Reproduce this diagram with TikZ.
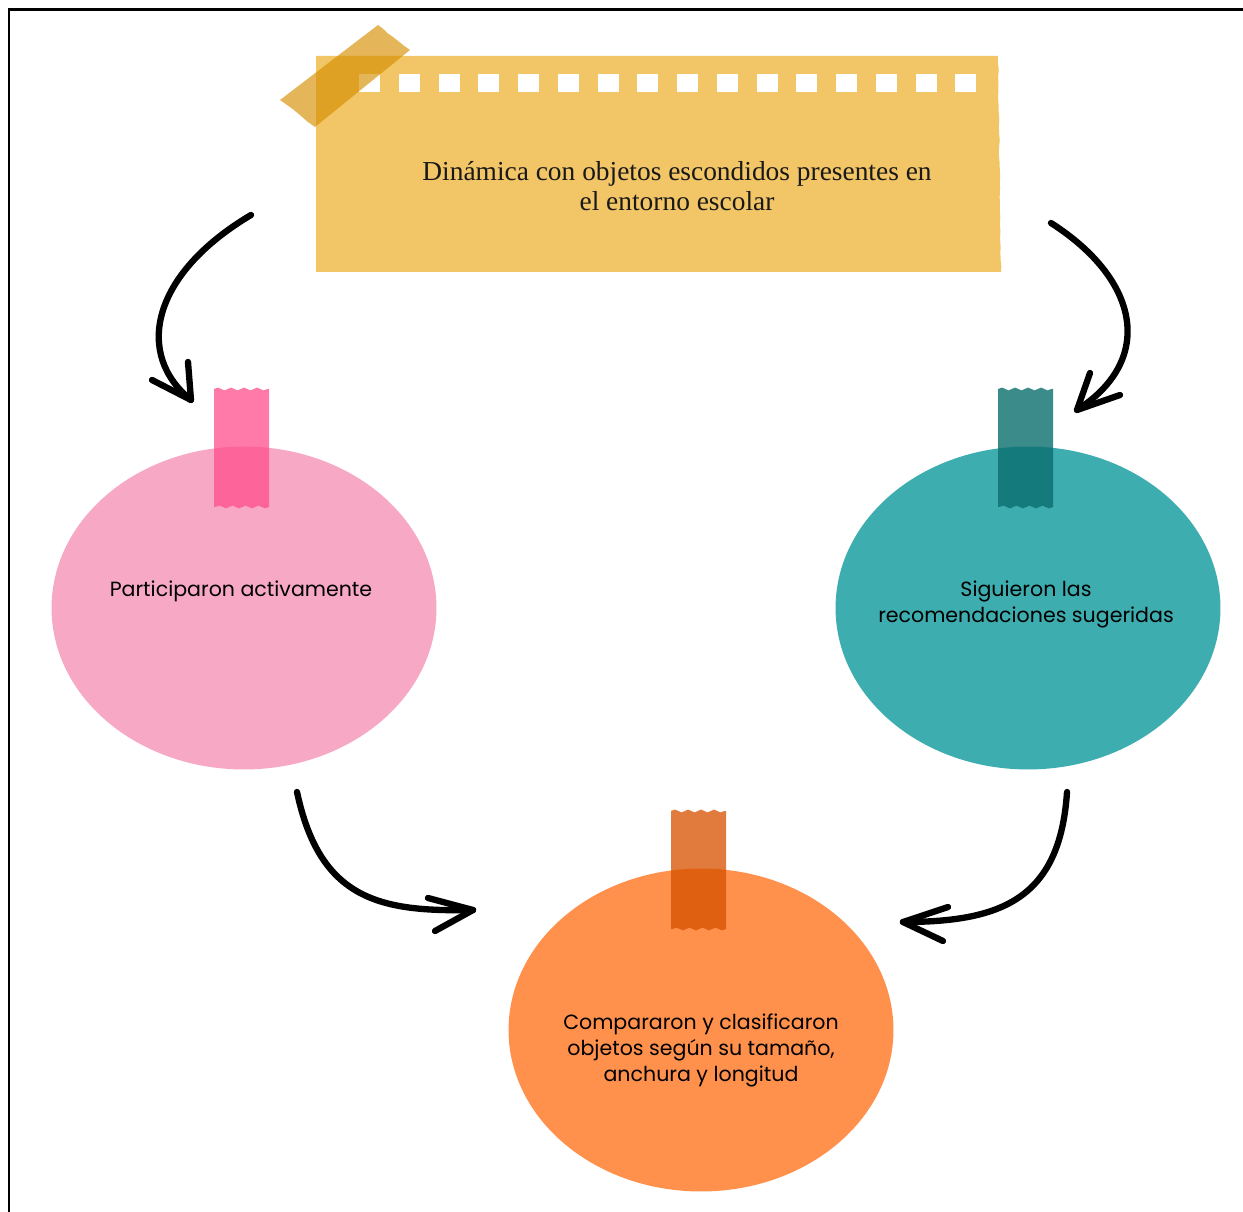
\documentclass[tikz,border=0pt]{standalone}
\usepackage{fontspec}
\setmainfont{Liberation Serif}
\newfontfamily\labelfont{Poppins}
\usetikzlibrary{shapes.geometric,decorations.pathmorphing}

\definecolor{paper}{HTML}{F2C566}
\definecolor{tapegold}{RGB}{213,143,0}
\definecolor{pinkbody}{HTML}{F7A8C4}
\definecolor{pinktape}{RGB}{255,82,142}
\definecolor{tealbody}{HTML}{3DADAF}
\definecolor{tealtape}{RGB}{10,110,110}
\definecolor{orangebody}{HTML}{FF914D}
\definecolor{orangetape}{RGB}{215,81,0}

\tikzset{
  blob/.style={ellipse, inner sep=0pt, outer sep=0pt,
    minimum width=7.7cm, minimum height=6.46cm},
  wavy/.style={decoration={snake, segment length=7.4pt, amplitude=0.8pt}},
  torn/.style={decoration={random steps, segment length=4pt, amplitude=0.35pt}},
  arrowline/.style={line width=3.6pt, line cap=round, line join=round, black},
  caption/.style={font=\labelfont\fontsize{11.7}{14.8}\selectfont,
    align=center, text=black},
  heading/.style={font=\fontsize{15.6}{17}\selectfont, align=center, text=black!90}
}

\begin{document}
\begin{tikzpicture}[x=0.02cm, y=-0.02cm]
\useasboundingbox (0,0) rectangle (1243,1212);

% frame
\draw[line width=1.7pt] (9,1212) -- (9,10) -- (1243,10);

% film-strip paper card
\fill[paper] (316,56) -- (998,56) decorate[torn]{-- (1001,272)} -- (316,272) -- cycle;
\foreach \i in {0,...,15}
  \fill[white] ({359+39.75*\i},74) rectangle +(21,18);
\fill[tapegold, fill opacity=0.65]
  (280,100) decorate[torn]{-- (315,127)} -- (410,50) decorate[torn]{-- (378,25)} -- cycle;
\node[heading] (title) at (677,186)
  {Dinámica con objetos escondidos presentes en\\el entorno escolar};

% three round notes
\node[blob, fill=pinkbody] (pink) at (244,608) {};
\node[blob, fill=tealbody] (teal) at (1028,608) {};
\node[blob, fill=orangebody] (orange) at (701,1030) {};

% tapes on the notes
\fill[pinktape, fill opacity=0.77, wavy]
  decorate{(214,389) -- (269,389)} -- (269,507) decorate{-- (214,507)} -- cycle;
\fill[tealtape, fill opacity=0.8, wavy]
  decorate{(998,389) -- (1053,389)} -- (1053,507) decorate{-- (998,507)} -- cycle;
\fill[orangetape, fill opacity=0.76, wavy]
  decorate{(671,811) -- (726,811)} -- (726,929) decorate{-- (671,929)} -- cycle;

% captions
\node[caption] (pinktext) at (241,591) {Participaron activamente};
\node[caption] (tealtext) at (1026,604) {Siguieron las\\recomendaciones sugeridas};
\node[caption] (orangetext) at (701,1050)
  {Compararon y clasificaron\\objetos según su tamaño,\\anchura y longitud};

% connector end points
\coordinate (a1s) at (251,215); \coordinate (a1t) at (191,400);
\coordinate (a1l) at (152,380); \coordinate (a1r) at (188,362);
\coordinate (a2s) at (1051,223); \coordinate (a2t) at (1077,410);
\coordinate (a2l) at (1090,373); \coordinate (a2r) at (1120,395);
\coordinate (a3s) at (297,792); \coordinate (a3t) at (473,910);
\coordinate (a3l) at (428,898); \coordinate (a3r) at (435,931);
\coordinate (a4s) at (1067,792); \coordinate (a4t) at (903,922);
\coordinate (a4l) at (948,907); \coordinate (a4r) at (943,941);

% hand-drawn arrows
\draw[arrowline] (a1s) .. controls (150,275) and (135,355) .. (a1t);
\draw[arrowline] (a1l) -- (a1t) -- (a1r);
\draw[arrowline] (a2s) .. controls (1140,280) and (1155,360) .. (a2t);
\draw[arrowline] (a2l) -- (a2t) -- (a2r);
\draw[arrowline] (a3s) .. controls (320,900) and (380,912) .. (a3t);
\draw[arrowline] (a3l) -- (a3t) -- (a3r);
\draw[arrowline] (a4s) .. controls (1060,900) and (1000,922) .. (a4t);
\draw[arrowline] (a4l) -- (a4t) -- (a4r);
\end{tikzpicture}
\end{document}
